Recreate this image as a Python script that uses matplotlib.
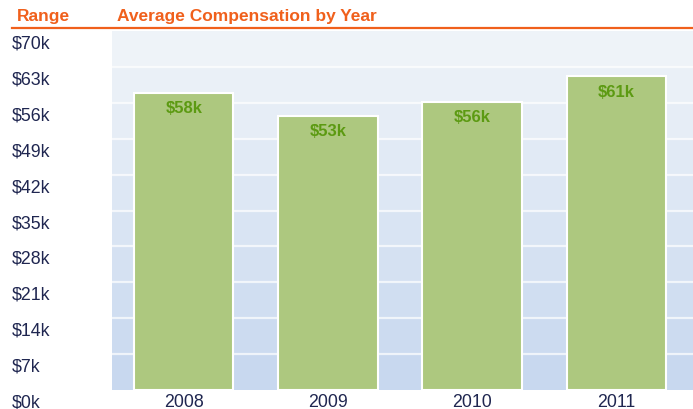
"""Average compensation by year: bar chart with banded gradient background."""

import numpy as np
import matplotlib.pyplot as plt
from matplotlib.colors import to_rgb
from matplotlib.transforms import ScaledTranslation
from matplotlib.lines import Line2D

years = ["2008", "2009", "2010", "2011"]
compensation_k = [58.0, 53.5, 56.2, 61.2]
bar_labels = ["$58k", "$53k", "$56k", "$61k"]
y_ticks = [0, 7, 14, 21, 28, 35, 42, 49, 56, 63, 70]
y_tick_labels = ["$0k", "$7k", "$14k", "$21k", "$28k", "$35k",
                 "$42k", "$49k", "$56k", "$63k", "$70k"]

ORANGE = "#f0601c"
NAVY = "#1f2650"
BAR_GREEN = "#adc87f"
LABEL_GREEN = "#5c9a12"

plt.rcParams["font.family"] = ["Liberation Sans", "DejaVu Sans"]

fig = plt.figure(figsize=(6.93, 4.10), dpi=100)
ax = fig.add_axes([112 / 693, 1 - 391 / 410, 581 / 693, 359 / 410])

# banded background, light at the top and bluer towards the bottom
top_rgb = np.array(to_rgb("#eef3f8"))
bottom_rgb = np.array(to_rgb("#c8d8ef"))
n_bands = len(y_ticks) - 1
for i in range(n_bands):
    frac = i / (n_bands - 1)
    col = bottom_rgb * (1 - frac) + top_rgb * frac
    ax.axhspan(y_ticks[i], y_ticks[i + 1], color=col, lw=0, zorder=0)
for yv in y_ticks[1:-1]:
    ax.axhline(yv, color="white", lw=1.6, alpha=0.7, zorder=1)

x = np.arange(len(years))
ax.bar(x, compensation_k, width=0.69, color=BAR_GREEN,
       edgecolor="white", linewidth=1.5, zorder=2)
for xi, val, lab in zip(x, compensation_k, bar_labels):
    ax.annotate(lab, (xi, val), xytext=(0, -15), textcoords="offset pixels",
                ha="center", va="center", fontsize=12, fontweight="bold",
                color=LABEL_GREEN, zorder=3)

ax.set_xlim(-0.497, 3.53)
ax.set_ylim(0, 70)
for s in ax.spines.values():
    s.set_visible(False)

ax.set_xticks(x)
ax.set_xticklabels(years, fontsize=12.8, color=NAVY)
ax.set_yticks(y_ticks)
ax.set_yticklabels(y_tick_labels, fontsize=12.8, color=NAVY)
ax.tick_params(axis="both", length=0)
ax.tick_params(axis="x", pad=2)
ax.tick_params(axis="y", pad=72)

# y labels sit left-aligned, a little below their gridline
shift = ScaledTranslation(0, -0.10, fig.dpi_scale_trans)
for lab in ax.get_yticklabels():
    lab.set_horizontalalignment("left")
    lab.set_transform(lab.get_transform() + shift)

# header row with orange rule underneath
fig.text(17 / 693, 1 - 16 / 410, "Range", fontsize=12.5, fontweight="bold",
         color=ORANGE, ha="left", va="center")
fig.text(117 / 693, 1 - 16 / 410, "Average Compensation by Year", fontsize=12.5,
         fontweight="bold", color=ORANGE, ha="left", va="center")
fig.add_artist(Line2D([12 / 693, 1.0], [1 - 29 / 410, 1 - 29 / 410],
                      color=ORANGE, lw=1.6, transform=fig.transFigure))

fig.savefig("out.png", dpi=100)
